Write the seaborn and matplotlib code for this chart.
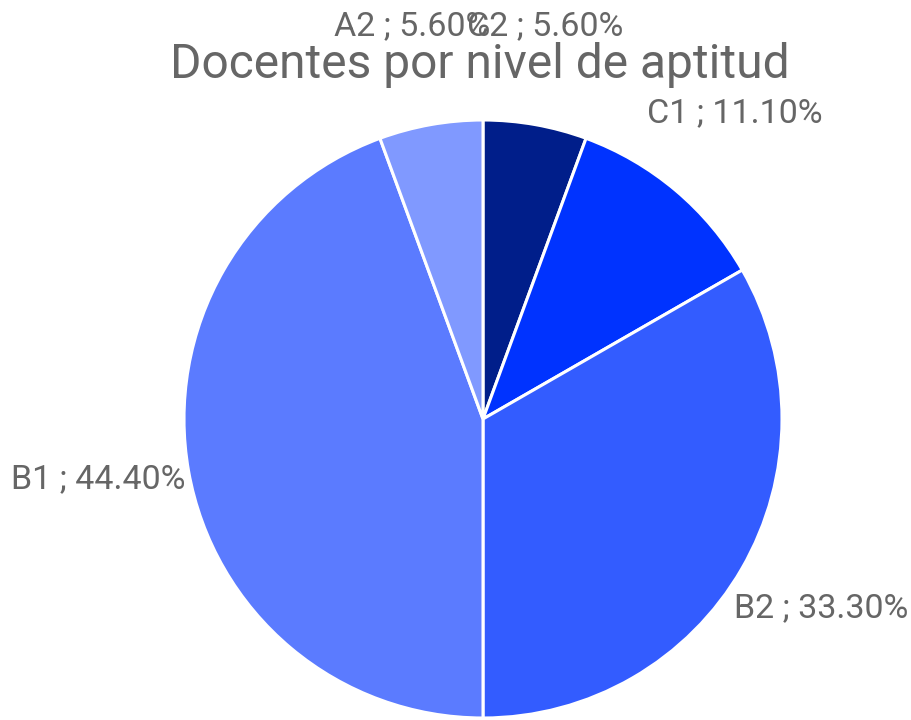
# Docentes por nivel de aptitud - pie chart

import matplotlib
matplotlib.use("Agg")
import matplotlib.pyplot as plt
import seaborn as sns

# data (clockwise from the top)
niveles = ["C2", "C1", "B2", "B1", "A2"]
porcentajes = [5.6, 11.1, 33.3, 44.4, 5.6]
colores = ["#001e8a", "#0033ff", "#335cff", "#5b7bff", "#8099ff"]

# label anchor positions in pixels (left edge, baseline from top)
label_pos = {
    "C2": (467, 35),
    "C1": (647, 122),
    "B2": (734, 617),
    "B1": (11, 488),
    "A2": (334, 35),
}

sns.set_theme(style="white")
plt.rcParams["font.family"] = ["Roboto", "DejaVu Sans"]
gris = "#666666"

fig = plt.figure(figsize=(9.12, 7.2), dpi=100)
ax = fig.add_axes([0, 0, 1, 1])

wedges, _ = ax.pie(
    porcentajes,
    colors=colores,
    startangle=90,
    counterclock=False,
    center=(483, 720 - 419),
    radius=299,
    wedgeprops=dict(edgecolor="white", linewidth=2.2),
    frame=True,
)
ax.set_xlim(0, 912)
ax.set_ylim(0, 720)
ax.set_aspect("equal")
ax.axis("off")

for nivel, pct in zip(niveles, porcentajes):
    x, y = label_pos[nivel]
    ax.text(x, 720 - y, f"{nivel} ; {pct:.2f}%", color=gris, fontsize=24.5,
            ha="left", va="baseline")

ax.text(480, 720 - 78, "Docentes por nivel de aptitud", color=gris,
        fontsize=34.5, ha="center", va="baseline")

fig.savefig("out.png", dpi=100)
